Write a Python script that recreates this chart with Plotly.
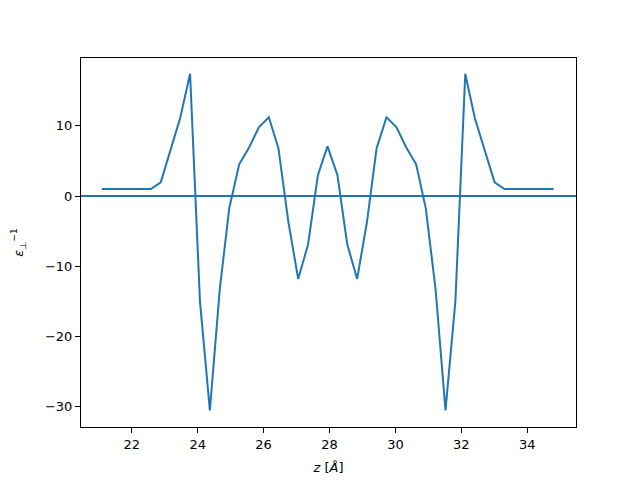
import plotly.graph_objects as go

z = [21.09, 21.39, 21.69, 21.98, 22.28, 22.58, 22.88, 23.18, 23.47, 23.77,
     24.07, 24.37, 24.67, 24.96, 25.26, 25.56, 25.86, 26.16, 26.45, 26.75,
     27.05, 27.35, 27.65, 27.94, 28.24, 28.54, 28.84, 29.14, 29.43, 29.73,
     30.03, 30.33, 30.63, 30.92, 31.22, 31.52, 31.82, 32.12, 32.41, 32.71,
     33.01, 33.31, 33.61, 33.90, 34.20, 34.50, 34.80]
eps_inv = [1.0, 1.0, 1.0, 1.0, 1.0, 1.0, 1.95, 6.5, 11.1, 17.4,
           -15.0, -30.5, -13.3, -1.7, 4.5, 6.9, 9.8, 11.2, 6.8, -3.6,
           -11.8, -6.9, 3.0, 7.07, 3.0, -6.9, -11.8, -3.6, 6.8, 11.2,
           9.8, 6.9, 4.5, -1.7, -13.3, -30.5, -15.0, 17.4, 11.1, 6.5,
           1.95, 1.0, 1.0, 1.0, 1.0, 1.0, 1.0]
baseline = 0

color = "#1f77b4"
fig = go.Figure()
fig.add_trace(go.Scatter(x=z, y=eps_inv, mode="lines",
                         line=dict(color=color, width=2), showlegend=False))
fig.add_hline(y=baseline, line=dict(color=color, width=2))

axis_common = dict(showline=True, linecolor="black", linewidth=1, mirror=True,
                   ticks="outside", ticklen=5, tickcolor="black", showgrid=False,
                   zeroline=False, automargin=False,
                   tickfont=dict(size=13, color="black"))
fig.update_xaxes(range=[20.46, 35.48], tick0=22, dtick=2,
                 title=dict(text="<i>z</i> [<i>Å</i>]", font=dict(size=13, color="black"), standoff=12),
                 **axis_common)
fig.update_yaxes(range=[-32.86, 19.63], tick0=0, dtick=10,
                 title=dict(text="<i>ε</i><sub>⊥</sub><sup>−1</sup>", font=dict(size=13, color="black"), standoff=18),
                 **axis_common)
fig.update_layout(width=640, height=480, margin=dict(l=81, r=64, t=58, b=53),
                  plot_bgcolor="white", paper_bgcolor="white",
                  font=dict(family="DejaVu Sans", color="black"))
fig.write_html("out.html", config={"displayModeBar": False},
               post_script="document.body.style.margin='0';")
